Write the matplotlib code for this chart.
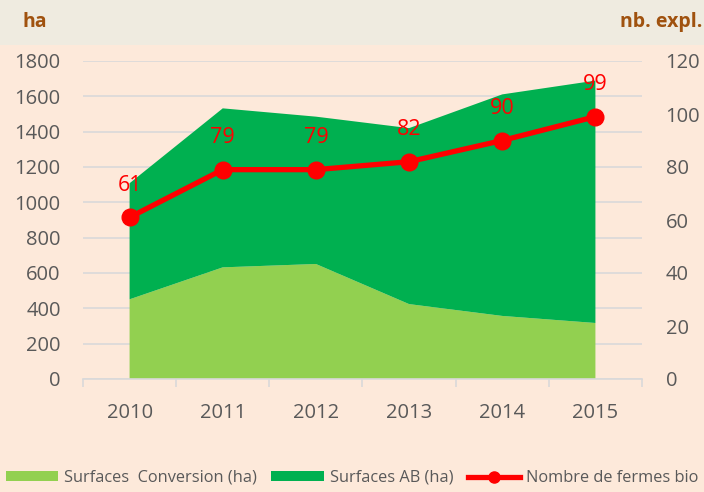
import matplotlib.pyplot as plt
from matplotlib.lines import Line2D
from matplotlib.patches import Patch, Rectangle

plt.rcParams['font.family'] = ['Open Sans', 'DejaVu Sans']

years = ['2010', '2011', '2012', '2013', '2014', '2015']
conversion = [451, 632, 651, 424, 357, 317]
ab = [657, 900, 834, 996, 1254, 1372]
fermes = [61, 79, 79, 82, 90, 99]

light = '#92D050'
dark = '#00B050'
red = '#FF0000'
grey = '#595959'
brown = '#A0520F'

fig = plt.figure(figsize=(7.04, 4.92), dpi=100)
fig.patch.set_facecolor('#FDE9DA')
# greyish band at the top
fig.add_artist(Rectangle((0, 1 - 45 / 492), 1, 45 / 492, transform=fig.transFigure,
                         facecolor='#EFEBE0', edgecolor='none', zorder=0))

ax = fig.add_axes([83 / 704, 1 - 379 / 492, (642 - 83) / 704, (379 - 61) / 492])
ax.set_facecolor('none')
x = list(range(len(years)))
ax.stackplot(x, conversion, ab, colors=[light, dark], linewidth=0, zorder=2)
ax.set_xlim(-0.5, 5.5)
ax.set_ylim(0, 1800)
ax.set_yticks(range(0, 1801, 200))
ax.set_xticks(x)
ax.set_xticklabels(years)
ax.set_xticks([i - 0.5 for i in range(7)], minor=True)
ax.tick_params(axis='x', which='major', length=0, pad=17, labelsize=14.5, labelcolor=grey)
ax.tick_params(axis='x', which='minor', length=6, color='#D9D9D9', width=1.2)
ax.tick_params(axis='y', length=0, pad=16, labelsize=14.5, labelcolor=grey)
ax.grid(axis='y', color='#D9D9D9', linewidth=1.2, zorder=0)
ax.set_axisbelow(True)
for s in ['top', 'right', 'left']:
    ax.spines[s].set_visible(False)
ax.spines['bottom'].set_color('#D9D9D9')
ax.spines['bottom'].set_linewidth(1.2)

ax2 = ax.twinx()
ax2.plot(x, fermes, color=red, linewidth=3.8, marker='o', markersize=12, zorder=5)
for xi, v in zip(x, fermes):
    ax2.annotate(str(v), (xi, v), xytext=(0, 23), textcoords='offset points',
                 ha='center', va='center', color=red, fontsize=15.5)
ax2.set_ylim(0, 120)
ax2.set_yticks(range(0, 121, 20))
ax2.tick_params(axis='y', length=0, pad=17, labelsize=14.5, labelcolor=grey)
for s in ['top', 'right', 'left', 'bottom']:
    ax2.spines[s].set_visible(False)

fig.text(22 / 704, 1 - 22 / 492, 'ha', fontsize=14, fontweight='bold', color=brown,
         ha='left', va='center')
fig.text(702 / 704, 1 - 22 / 492, 'nb. expl.', fontsize=14, fontweight='bold', color=brown,
         ha='right', va='center')

handles = [Patch(facecolor=light, edgecolor='none'),
           Patch(facecolor=dark, edgecolor='none'),
           Line2D([], [], color=red, linewidth=3.8, marker='o', markersize=8)]
labels = ['Surfaces  Conversion (ha)', 'Surfaces AB (ha)', 'Nombre de fermes bio']
fig.legend(handles, labels, loc='center', bbox_to_anchor=(0.5, 1 - 478 / 492), ncol=3,
           frameon=False, fontsize=11.8, labelcolor=grey, handlelength=3.2,
           handleheight=0.6, handletextpad=0.35, columnspacing=0.9)

fig.savefig('out.png', dpi=100, facecolor=fig.get_facecolor())
